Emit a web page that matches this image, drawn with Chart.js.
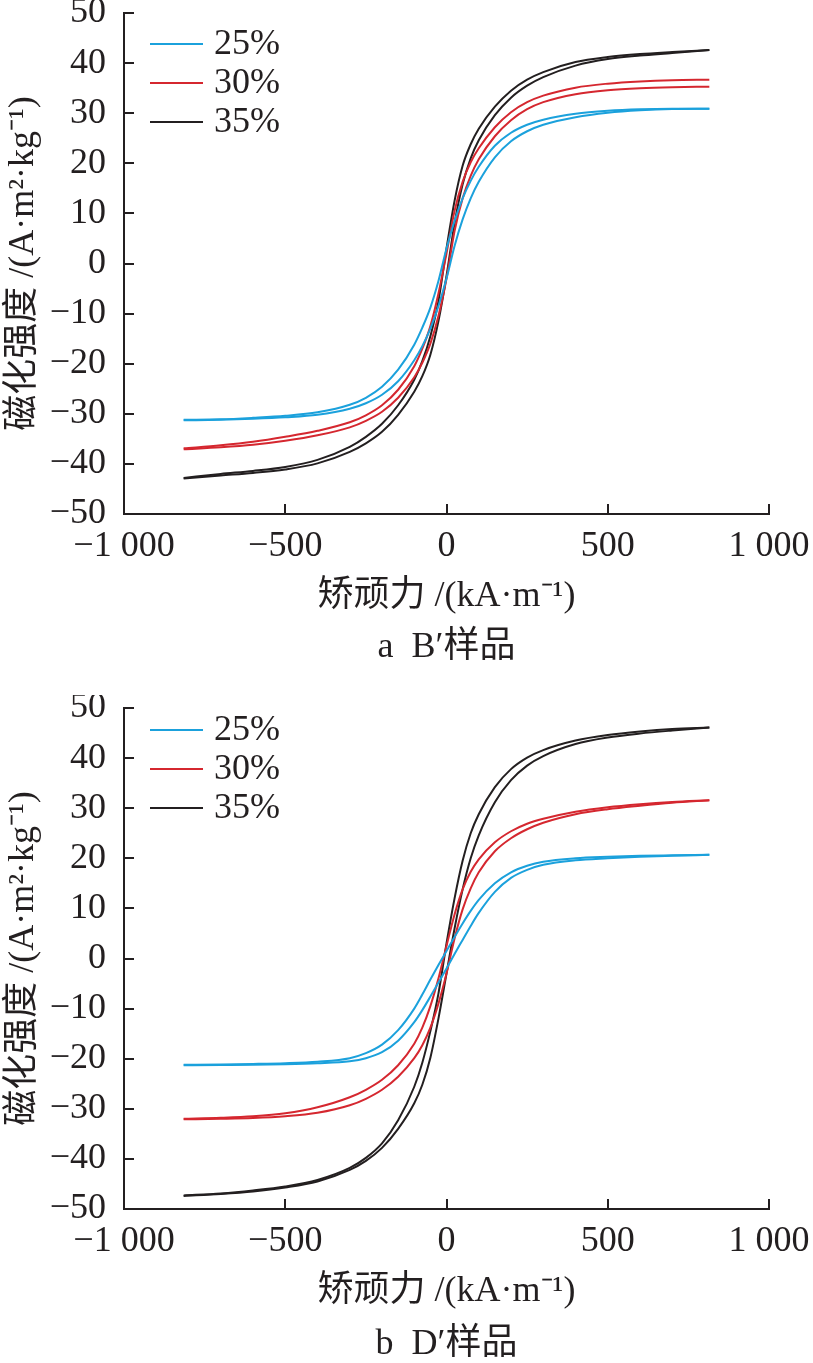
<!DOCTYPE html>
<html>
<head>
<meta charset="utf-8">
<script src="https://cdn.jsdelivr.net/npm/chart.js@4.4.1/dist/chart.umd.min.js"></script>
<style>
  html, body { margin: 0; padding: 0; background: #fff; }
  .panel { position: relative; width: 813px; }
  #panelA { height: 695px; }
  #panelB { height: 668px; }
</style>
</head>
<body>
<div class="panel" id="panelA"><canvas id="chartA"></canvas></div>
<div class="panel" id="panelB"><canvas id="chartB"></canvas></div>
<script>
// 矫顽力 H (kA/m), shared by every branch of the loops
const fieldH = [-815, -700, -600, -500, -400, -300, -250, -200, -150, -100, -75, -50, -25,
  0, 25, 50, 75, 100, 150, 200, 250, 300, 400, 500, 600, 700, 815];

// a  B'样品 — 磁化强度 (A·m²/kg), upper (descending) and lower (ascending) branch
const blueUpA  = [-31.2, -31.1, -30.8, -30.4, -29.7, -28.2, -26.8, -24.6, -21.2, -16.2, -12.8, -8.8, -3.5,
  3.0, 8.5, 13.0, 16.5, 19.3, 23.5, 26.1, 27.7, 28.7, 29.9, 30.5, 30.8, 30.9, 30.9];
const blueLoA  = [-31.3, -31.2, -31.0, -30.7, -30.2, -29.0, -27.9, -26.2, -23.5, -19.3, -16.5, -13.0, -8.5,
  -3.0, 3.5, 8.8, 13.0, 16.3, 21.2, 24.4, 26.4, 27.7, 29.2, 30.1, 30.6, 30.85, 30.9];
const redUpA   = [-36.9, -36.3, -35.6, -34.6, -33.4, -31.7, -30.3, -28.3, -25.2, -20.5, -17.0, -12.5, -6.0,
  2.0, 10.5, 16.3, 20.2, 23.0, 27.2, 30.2, 32.2, 33.5, 35.1, 35.9, 36.35, 36.6, 36.7];
const redLoA   = [-37.1, -36.7, -36.2, -35.4, -34.3, -32.7, -31.4, -29.6, -26.8, -22.7, -19.8, -16.0, -10.5,
  -3.0, 6.5, 13.0, 17.5, 20.8, 25.4, 28.6, 30.8, 32.2, 33.8, 34.6, 35.0, 35.2, 35.3];
const blackUpA = [-42.8, -42.0, -41.4, -40.6, -39.2, -36.6, -34.6, -32.0, -28.3, -23.2, -19.5, -14.5, -7.5,
  3.0, 12.5, 19.5, 23.8, 26.9, 31.3, 34.5, 36.7, 38.2, 40.2, 41.2, 41.8, 42.2, 42.6];
const blackLoA = [-42.9, -42.3, -41.8, -41.1, -39.9, -37.6, -35.9, -33.6, -30.2, -25.6, -22.5, -18.2, -11.5,
  -2.5, 8.0, 15.8, 21.0, 24.6, 29.6, 33.1, 35.5, 37.2, 39.5, 40.8, 41.5, 42.0, 42.6];

// b  D'样品
const blueUpB  = [-21.2, -21.15, -21.05, -20.9, -20.6, -19.9, -18.9, -17.2, -14.3, -10.0, -7.2, -4.2, -1.3,
  1.5, 4.3, 7.0, 9.5, 11.7, 15.0, 17.2, 18.5, 19.3, 20.0, 20.3, 20.5, 20.6, 20.7];
const blueLoB  = [-21.3, -21.25, -21.2, -21.1, -20.9, -20.5, -19.9, -18.7, -16.4, -12.7, -10.3, -7.6, -4.8,
  -2.0, 0.9, 3.7, 6.5, 9.1, 13.3, 16.1, 17.7, 18.7, 19.6, 20.0, 20.3, 20.5, 20.7];
const redUpB   = [-32.0, -31.8, -31.5, -30.9, -29.7, -27.7, -26.2, -24.2, -21.3, -17.0, -13.8, -9.5, -4.0,
  2.5, 8.8, 13.8, 17.3, 19.8, 23.2, 25.4, 26.9, 27.9, 29.3, 30.2, 30.8, 31.25, 31.6];
const redLoB   = [-32.1, -32.0, -31.85, -31.5, -30.8, -29.3, -28.0, -26.2, -23.6, -19.9, -17.3, -13.8, -9.0,
  -3.0, 4.0, 9.8, 14.0, 17.2, 21.4, 24.0, 25.8, 27.1, 28.8, 29.8, 30.5, 31.1, 31.6];
const blackUpB = [-47.3, -46.9, -46.3, -45.5, -44.2, -41.8, -39.8, -36.9, -32.3, -25.6, -20.8, -14.5, -7.0,
  3.0, 12.0, 19.5, 25.0, 28.8, 34.2, 37.8, 40.1, 41.6, 43.5, 44.6, 45.3, 45.8, 46.1];
const blackLoB = [-47.4, -47.0, -46.5, -45.7, -44.5, -42.2, -40.4, -37.8, -34.0, -28.9, -25.2, -19.8, -12.0,
  -3.0, 6.0, 13.8, 20.0, 24.6, 31.2, 35.6, 38.5, 40.4, 42.8, 44.1, 44.9, 45.5, 46.1];

const seriesNames = ['25%', '30%', '35%'];
const xTicks = [-1000, -500, 0, 500, 1000];
const xTickLabels = ['\u22121 000', '\u2212500', '0', '500', '1 000'];
const yTicks = [-50, -40, -30, -20, -10, 0, 10, 20, 30, 40, 50];
const yTickLabels = ['\u221250', '\u221240', '\u221230', '\u221220', '\u221210', '0', '10', '20', '30', '40', '50'];

const FONT = '"Liberation Serif", "Noto Sans CJK SC", serif';
const INK = '#231f20';
const lineColors = ['#1ba1dc', '#d5272f', INK];

function branch(k, values, inLegend) {
  return {
    label: seriesNames[k],
    data: values.map((v, i) => ({ x: fieldH[i], y: v })),
    borderColor: lineColors[k],
    borderWidth: 2,
    pointRadius: 0,
    fill: false,
    cubicInterpolationMode: 'monotone',
    inLegend: inLegend
  };
}

// tick marks point into the plot
const innerTicks = {
  id: 'innerTicks',
  afterDraw(chart) {
    const { ctx, chartArea, scales } = chart;
    ctx.save();
    ctx.strokeStyle = INK;
    ctx.lineWidth = 2;
    ctx.beginPath();
    xTicks.forEach(v => {
      const px = Math.round(scales.x.getPixelForValue(v));
      ctx.moveTo(px, chartArea.bottom);
      ctx.lineTo(px, chartArea.bottom - 10);
    });
    yTicks.forEach(v => {
      const py = Math.round(scales.y.getPixelForValue(v));
      ctx.moveTo(chartArea.left, py);
      ctx.lineTo(chartArea.left + 10, py);
    });
    ctx.stroke();
    ctx.restore();
  }
};

// legend drawn inside the top-left corner
const insideLegend = {
  id: 'insideLegend',
  afterDatasetsDraw(chart, args, opts) {
    const { ctx, chartArea } = chart;
    ctx.save();
    ctx.font = '36px ' + FONT;
    ctx.textBaseline = 'middle';
    ctx.fillStyle = INK;
    let row = 0;
    chart.data.datasets.forEach(ds => {
      if (!ds.inLegend) return;
      const ly = chartArea.top + opts.top + row * 39;
      ctx.strokeStyle = ds.borderColor;
      ctx.lineWidth = 2;
      ctx.beginPath();
      ctx.moveTo(chartArea.left + 26, ly);
      ctx.lineTo(chartArea.left + 79, ly);
      ctx.stroke();
      ctx.fillText(ds.label, chartArea.left + 90, ly + 1);
      row++;
    });
    ctx.restore();
  }
};

function makeChart(id, sets, cfg) {
  return new Chart(document.getElementById(id), {
    type: 'line',
    data: { datasets: sets },
    plugins: [innerTicks, insideLegend],
    options: {
      responsive: true,
      maintainAspectRatio: false,
      animation: false,
      devicePixelRatio: 1,
      layout: { padding: { top: 13, right: 44, bottom: cfg.padBottom, left: 0 } },
      plugins: {
        legend: { display: false },
        tooltip: { enabled: false },
        title: {
          display: true, position: 'bottom', fullSize: false, text: cfg.caption, color: INK,
          font: { family: FONT, size: 36, weight: 'normal', lineHeight: 1 }, padding: 0
        },
        insideLegend: { top: cfg.legendTop }
      },
      scales: {
        x: {
          type: 'linear', min: -1000, max: 1000,
          afterFit: s => { s.height = cfg.xHeight; s.paddingLeft = 0; s.paddingRight = 0; },
          afterBuildTicks: s => { s.ticks = xTicks.map(v => ({ value: v })); },
          grid: { display: false },
          border: { display: true, color: INK, width: 2 },
          ticks: {
            autoSkip: false, maxRotation: 0, padding: 3, color: INK,
            font: { family: FONT, size: 36, lineHeight: 1.2 },
            callback: (v, i) => xTickLabels[i]
          },
          title: {
            display: true, text: '矫顽力 /(kA·m⁻¹)', color: INK,
            font: { family: FONT, size: 36, lineHeight: 1.2 },
            padding: { top: 0, bottom: cfg.xTitlePad }
          }
        },
        y: {
          type: 'linear', min: -50, max: 50,
          afterFit: s => { s.width = 124; s.paddingTop = 0; s.paddingBottom = 0; },
          afterBuildTicks: s => { s.ticks = yTicks.map(v => ({ value: v })); },
          grid: { display: false },
          border: { display: true, color: INK, width: 2 },
          ticks: {
            autoSkip: false, padding: 10, color: INK,
            font: { family: FONT, size: 36, lineHeight: 1.2 },
            callback: (v, i) => yTickLabels[i]
          },
          title: {
            display: true, text: '磁化强度 /(A·m²·kg⁻¹)', color: INK,
            font: { family: FONT, size: 36, lineHeight: 1.2 },
            padding: { top: 2, bottom: 0 }
          }
        }
      }
    }
  });
}

makeChart('chartA', [
  branch(0, blueUpA, true), branch(0, blueLoA, false),
  branch(1, redUpA, true), branch(1, redLoA, false),
  branch(2, blackUpA, true), branch(2, blackLoA, false)
], { caption: 'a  B′样品', padBottom: 29, xHeight: 116, xTitlePad: 12, legendTop: 31 });

makeChart('chartB', [
  branch(0, blueUpB, true), branch(0, blueLoB, false),
  branch(1, redUpB, true), branch(1, redLoB, false),
  branch(2, blackUpB, true), branch(2, blackLoB, false)
], { caption: 'b  D′样品', padBottom: 0, xHeight: 118, xTitlePad: 14, legendTop: 22 });
</script>
</body>
</html>
